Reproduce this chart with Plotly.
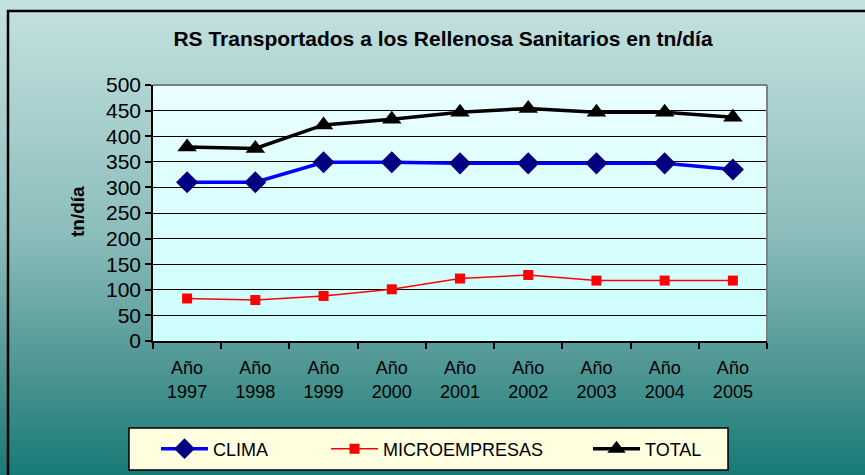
import plotly.graph_objects as go

# ── Data ──────────────────────────────────────────────────────────────────────
YEARS = ["Año<br>1997", "Año<br>1998", "Año<br>1999", "Año<br>2000", "Año<br>2001",
         "Año<br>2002", "Año<br>2003", "Año<br>2004", "Año<br>2005"]
CLIMA = [310, 310, 349, 349, 347, 347, 347, 347, 335]
MICRO = [83, 80, 88, 101, 122, 129, 118, 118, 118]
TOTAL = [379, 376, 422, 433, 447, 454, 447, 447, 437]

W, H = 865, 475
L, R, T, B = 153, 98, 85, 134
PW, PH = W - L - R, H - T - B
FONT = "Liberation Sans, Arial, sans-serif"


def px_x(x):
    return (x - L) / PW


def px_y(y):
    return (H - B - y) / PH


def lerp_color(stops, y):
    for (y0, c0), (y1, c1) in zip(stops, stops[1:]):
        if y0 <= y <= y1:
            f = (y - y0) / (y1 - y0)
            return "rgb(%d,%d,%d)" % tuple(round(a + (b - a) * f) for a, b in zip(c0, c1))
    return "rgb(%d,%d,%d)" % stops[-1][1]


BG_STOPS = [(0, (196, 226, 224)), (230, (140, 190, 188)), (340, (92, 158, 155)), (475, (24, 122, 118))]
PLOT_STOPS = [(T, (234, 254, 254)), (H - B, (204, 254, 254))]

shapes = []
# outer background gradient
step = 5
for y in range(0, H, step):
    shapes.append(dict(type="rect", xref="paper", yref="paper", layer="below",
                       x0=px_x(0), x1=px_x(W), y0=px_y(y), y1=px_y(y + step + 1),
                       fillcolor=lerp_color(BG_STOPS, y + step / 2), line=dict(width=0)))
# plot area gradient
for y in range(T, H - B, 4):
    shapes.append(dict(type="rect", xref="paper", yref="paper", layer="below",
                       x0=0, x1=1, y0=px_y(y), y1=px_y(min(y + 5, H - B)),
                       fillcolor=lerp_color(PLOT_STOPS, y + 2), line=dict(width=0)))
# plot frame (gray top/right)
shapes.append(dict(type="line", xref="paper", yref="paper", x0=0, x1=1, y0=1, y1=1,
                   line=dict(color="#808080", width=2)))
shapes.append(dict(type="line", xref="paper", yref="paper", x0=1, x1=1, y0=0, y1=1,
                   line=dict(color="#808080", width=2)))
# outer chart border
shapes.append(dict(type="rect", xref="paper", yref="paper",
                   x0=px_x(8), x1=px_x(W + 5), y0=px_y(H + 5), y1=px_y(11),
                   line=dict(color="black", width=2.5)))
# legend box
shapes.append(dict(type="rect", xref="paper", yref="paper",
                   x0=px_x(129), x1=px_x(728), y0=px_y(470), y1=px_y(428),
                   fillcolor="#FFFFE0", line=dict(color="black", width=1.5)))

fig = go.Figure()
fig.add_trace(go.Scatter(
    x=YEARS, y=CLIMA, name="CLIMA", mode="lines+markers", legend="legend",
    line=dict(color="#0000FF", width=3.5),
    marker=dict(symbol="diamond", size=17, color="#000080"),
))
fig.add_trace(go.Scatter(
    x=YEARS, y=MICRO, name="MICROEMPRESAS", mode="lines+markers", legend="legend2",
    line=dict(color="#FF0000", width=1.5),
    marker=dict(symbol="square", size=10, color="#FF0000"),
))
fig.add_trace(go.Scatter(
    x=YEARS, y=TOTAL, name="TOTAL", mode="lines+markers", legend="legend3",
    line=dict(color="black", width=3.5),
    marker=dict(symbol="triangle-up", size=17, color="black"),
))

leg = dict(yanchor="middle", y=px_y(449), xanchor="left", bgcolor="rgba(0,0,0,0)",
           borderwidth=0, font=dict(size=18, family=FONT), itemwidth=47)

fig.update_layout(
    width=W, height=H,
    margin=dict(l=L, r=R, t=T, b=B, autoexpand=False),
    paper_bgcolor="rgba(0,0,0,0)",
    plot_bgcolor="rgba(0,0,0,0)",
    font=dict(family=FONT, color="black", size=16),
    title=dict(text="<b>RS Transportados a los Rellenosa Sanitarios en tn/día</b>",
               x=px_x(443), xref="paper", xanchor="center",
               y=1 - 39 / H, yref="container", yanchor="middle",
               font=dict(size=21, family=FONT)),
    xaxis=dict(
        type="category", showgrid=False, showline=True, linecolor="black", linewidth=1.5,
        ticks="outside", tickson="boundaries", ticklen=6, tickcolor="black", tickwidth=1.5,
        tickfont=dict(size=18), range=[-0.5, 8.5], automargin=False, ticklabelstandoff=10,
    ),
    yaxis=dict(
        range=[0, 500], dtick=50, showgrid=True, gridcolor="black", gridwidth=1.2,
        showline=True, linecolor="black", linewidth=1.5,
        ticks="outside", ticklen=6, tickcolor="black", tickwidth=1.5,
        tickfont=dict(size=21), zeroline=False, automargin=False,
    ),
    annotations=[dict(text="<b>tn/día</b>", textangle=-90, showarrow=False,
                      xref="paper", yref="paper", x=px_x(77), y=px_y(212),
                      xanchor="center", yanchor="middle", font=dict(size=19))],
    legend=dict(leg, x=px_x(156)),
    legend2=dict(leg, x=px_x(326)),
    legend3=dict(leg, x=px_x(588)),
    shapes=shapes,
    showlegend=True,
)

fig.write_html("out.html", post_script="document.body.style.margin='0';",
               config={"displayModeBar": False})
